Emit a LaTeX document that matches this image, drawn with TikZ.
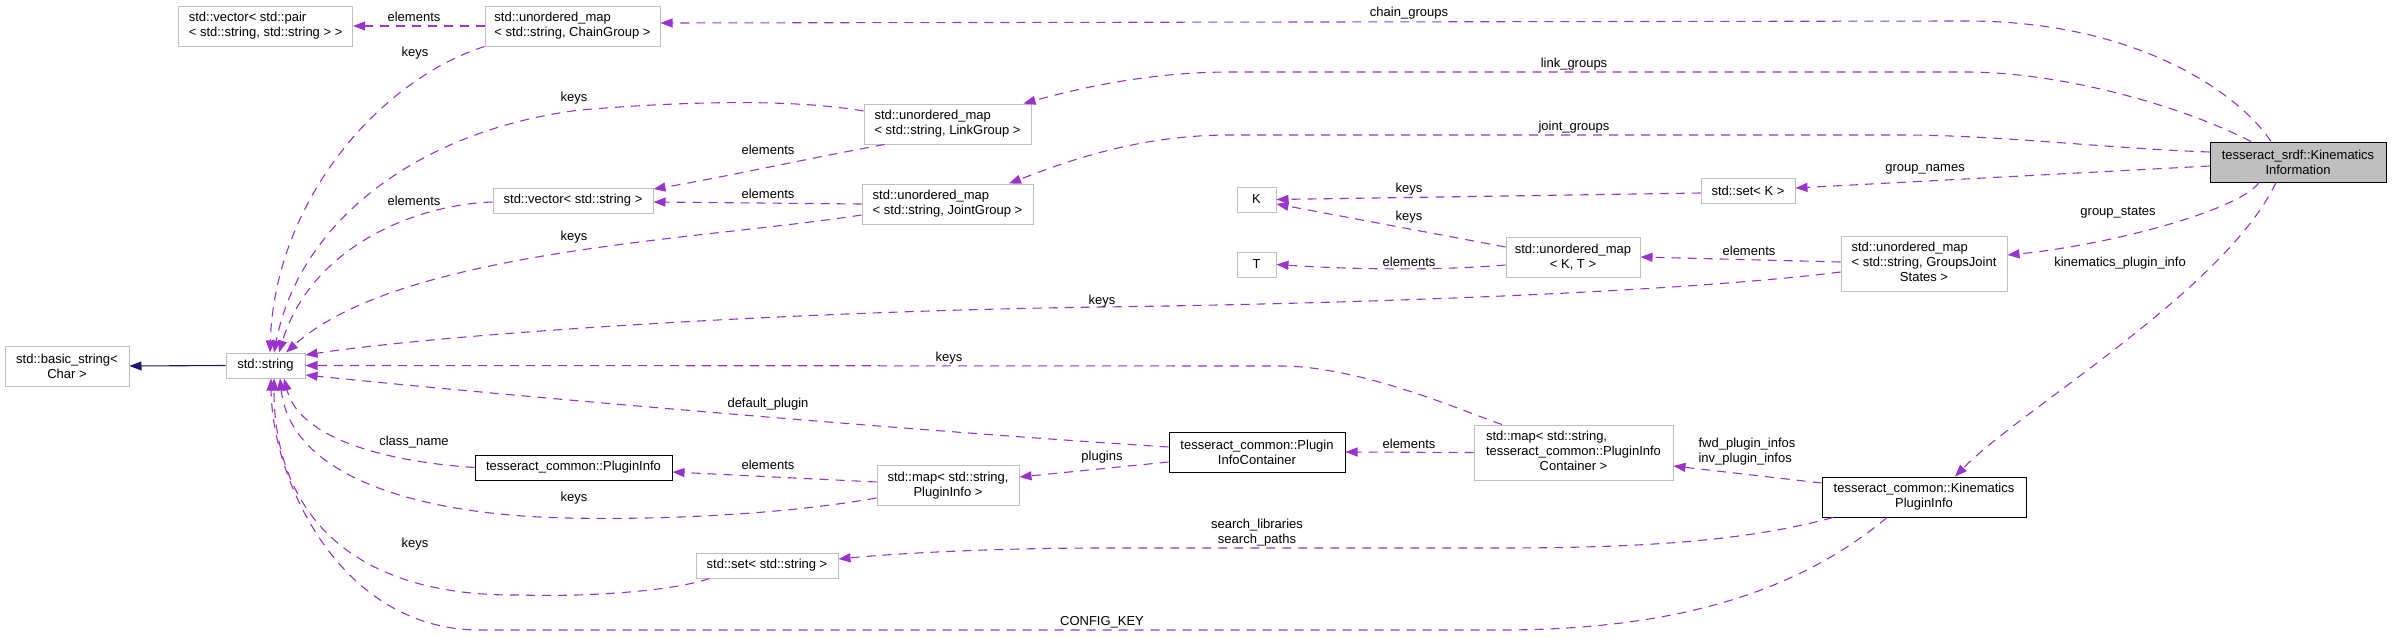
\documentclass[tikz,border=0pt]{standalone}
\usepackage{fontspec}
\setmainfont{Liberation Sans}
\usetikzlibrary{arrows.meta}
\definecolor{edgepurple}{HTML}{9A32CD}
\definecolor{edgenavy}{HTML}{191970}
\definecolor{boxgray}{HTML}{BFBFBF}

\begin{document}
\begin{tikzpicture}[x=1pt, y=-1pt,
    every node/.style={font=\fontsize{13}{15}\selectfont, inner sep=0pt},
    cls/.style={draw=boxgray, line width=1pt, fill=white, align=center},
    doc/.style={draw=black, line width=1pt, fill=white, align=center},
    focus/.style={draw=black, line width=1pt, fill=boxgray, align=center},
    member/.style={draw=edgepurple, line width=1.1pt, dash pattern=on 9pt off 7pt, -{Triangle[length=12pt,width=9pt]}},
    base/.style={draw=edgenavy, line width=1.1pt, -{Triangle[length=12pt,width=9pt]}}]
		\useasboundingbox (0,0) rectangle (2392,637);
		\node[cls, minimum width=174pt, minimum height=40pt] (vecpair) at (265.6,26) {\begin{tabular}{@{}l@{}}std::vector< std::pair\\< std::string, std::string > >\end{tabular}};
		\node[cls, minimum width=175pt, minimum height=40pt] (chain) at (572.5,26) {\begin{tabular}{@{}l@{}}std::unordered\_map\\< std::string, ChainGroup >\end{tabular}};
		\node[cls, minimum width=160pt, minimum height=25pt] (vecstr) at (573,200.5) {std::vector< std::string >};
		\node[cls, minimum width=124pt, minimum height=40pt] (basic) at (67,366) {std::basic\_string<\\Char >};
		\node[cls, minimum width=79pt, minimum height=25pt] (str) at (265.5,365.5) {std::string};
		\node[doc, minimum width=197pt, minimum height=25pt] (pinfo) at (573.5,467.5) {tesseract\_common::PluginInfo};
		\node[cls, minimum width=167pt, minimum height=40pt] (link) at (947.5,124) {\begin{tabular}{@{}l@{}}std::unordered\_map\\< std::string, LinkGroup >\end{tabular}};
		\node[cls, minimum width=171pt, minimum height=40pt] (joint) at (947.5,204) {\begin{tabular}{@{}l@{}}std::unordered\_map\\< std::string, JointGroup >\end{tabular}};
		\node[cls, minimum width=142pt, minimum height=40pt] (mappi) at (948,485.5) {std::map< std::string,\\PluginInfo >};
		\node[cls, minimum width=142pt, minimum height=25pt] (setstr) at (767,565.5) {std::set< std::string >};
		\node[cls, minimum width=39pt, minimum height=25pt] (K) at (1256.5,199.5) {K};
		\node[cls, minimum width=39pt, minimum height=25pt] (T) at (1256.5,264.5) {T};
		\node[doc, minimum width=176pt, minimum height=40pt] (pic) at (1257,452) {tesseract\_common::Plugin\\InfoContainer};
		\node[cls, minimum width=134pt, minimum height=40pt] (umapkt) at (1573,257) {std::unordered\_map\\< K, T >};
		\node[cls, minimum width=199pt, minimum height=55pt] (mappic) at (1573.5,452.5) {\begin{tabular}{@{}l@{}}std::map< std::string,\\tesseract\_common::PluginInfo\\\multicolumn{1}{@{}c@{}}{Container >}\end{tabular}};
		\node[cls, minimum width=94pt, minimum height=25pt] (setk) at (1748,191) {std::set< K >};
		\node[cls, minimum width=166pt, minimum height=55pt] (gjs) at (1924,263.5) {\begin{tabular}{@{}l@{}}std::unordered\_map\\< std::string, GroupsJoint\\\multicolumn{1}{@{}c@{}}{States >}\end{tabular}};
		\node[doc, minimum width=204pt, minimum height=40pt] (kpi) at (1924,497) {tesseract\_common::Kinematics\\PluginInfo};
		\node[focus, minimum width=176pt, minimum height=40pt] (kin) at (2298,162) {tesseract\_srdf::Kinematics\\Information};

		\draw[member] ([xshift=-27pt]kin.north) .. controls (2240,95) and (2140,21) .. (1966,21) -- ([yshift=3pt]chain.east);
		\draw[member] ([xshift=-47pt]kin.north) .. controls (2180,105) and (2060,72) .. (1966,72) -- (1230,72) .. controls (1150,72) and (1080,88) .. ([xshift=-8pt]link.north east);
		\draw[member] ([yshift=10pt]kin.west) .. controls (2100,148) and (2000,135) .. (1900,135) -- (1230,135) .. controls (1140,135) and (1070,160) .. ([xshift=61.5pt]joint.north);
		\draw[member] ([yshift=-4pt]kin.west) -- ([yshift=3pt]setk.east);
		\draw[member] ([xshift=-39pt]kin.south) .. controls (2240,210) and (2110,245) .. ([yshift=8.5pt]gjs.east);
		\draw[member] ([xshift=-22pt]kin.south) .. controls (2225,290) and (2020,410) .. ([xshift=31pt]kpi.north);

		\draw[member] (chain.west) -- (vecpair.east);
		\draw[member] (chain.south west) .. controls (380,80) and (275,200) .. ([xshift=4.5pt]str.north);
		\draw[member] ([yshift=13pt]link.west) .. controls (800,100) and (700,100) .. (580,110) .. controls (420,130) and (300,220) .. ([xshift=8.5pt]str.north);
		\draw[member] ([xshift=21pt]link.south west) .. controls (800,160) and (720,178) .. ([yshift=11.5pt]vecstr.east);
		\draw[member] (joint.west) -- ([yshift=-1.5pt]vecstr.east);
		\draw[member] ([yshift=-1.5pt]vecstr.west) .. controls (410,205) and (310,250) .. ([xshift=13.5pt]str.north);
		\draw[member] ([yshift=-11pt]joint.west) .. controls (700,240) and (400,250) .. ([xshift=20.5pt]str.north);

		\draw[member] ([yshift=-2pt]setk.west) -- (K.east);
		\draw[member] ([yshift=10pt]umapkt.west) -- ([yshift=-4.5pt]K.east);
		\draw[member] ([yshift=-8pt]umapkt.west) .. controls (1420,272) and (1330,268) .. (T.east);
		\draw[member] ([yshift=1.5pt]gjs.west) -- (umapkt.east);
		\draw[member] ([yshift=-8.5pt]gjs.west) .. controls (1700,290) and (1400,303) .. (1102,307) .. controls (800,311) and (450,333) .. ([yshift=10.5pt]str.east);

		\draw[member] ([xshift=-71.5pt]mappic.north) .. controls (1460,410) and (1360,366) .. (1280,366) -- (str.east);
		\draw[member] ([yshift=5pt]pic.west) .. controls (900,430) and (500,395) .. ([yshift=-9.5pt]str.east);
		\draw[member] (pinfo.west) .. controls (390,462) and (300,440) .. ([xshift=18.5pt]str.south);
		\draw[member] ([yshift=3.5pt]mappi.west) -- ([yshift=-4.5pt]pinfo.east);
		\draw[member] ([yshift=-12.5pt]mappi.west) .. controls (750,520) and (600,520) .. (540,517) .. controls (400,510) and (290,470) .. ([xshift=14.5pt]str.south);
		\draw[member] ([yshift=-10pt]pic.west) -- ([yshift=8.5pt]mappi.east);
		\draw[member] (mappic.west) -- (pic.east);
		\draw[member] ([yshift=14pt]kpi.west) -- ([yshift=-13.5pt]mappic.east);
		\draw[member] ([xshift=-91pt]kpi.south) .. controls (1750,540) and (1650,548) .. (1500,548) -- (1100,548) .. controls (1000,548) and (900,553) .. ([yshift=6.5pt]setstr.east);
		\draw[member] ([xshift=14pt]setstr.south west) .. controls (670,592) and (580,597) .. (520,595) .. controls (342,597) and (274,505) .. ([xshift=8.5pt]str.south);
		\draw[member] ([xshift=-37pt]kpi.south) .. controls (1800,590) and (1680,630) .. (1500,630) -- (480,630) .. controls (340,630) and (272,480) .. ([xshift=5.5pt]str.south);

		\draw[base] (str.west) -- (basic.east);

		\node (lchain) at (1409,13) {chain\_groups};
		\node (llink) at (1574,64) {link\_groups};
		\node (ljoint) at (1574,127) {joint\_groups};
		\node (lgnames) at (1925,169) {group\_names};
		\node (lgstates) at (2118,213) {group\_states};
		\node (lkpi) at (2120,263) {kinematics\_plugin\_info};
		\node (lvecpair) at (414,17) {elements};
		\node (lchainkeys) at (415,53) {keys};
		\node (llinkkeys) at (574,98) {keys};
		\node (lvecstr) at (414,201) {elements};
		\node (llinkel) at (768,150) {elements};
		\node (ljointel) at (768,194) {elements};
		\node (ljointkeys) at (574,237) {keys};
		\node (lsetk) at (1409,189) {keys};
		\node (lkeyk) at (1409,217) {keys};
		\node (lelt) at (1409,262) {elements};
		\node (lgjsel) at (1749,251) {elements};
		\node (lgjskeys) at (1102,301) {keys};
		\node (lmappickeys) at (949,358) {keys};
		\node (ldefault) at (768,404) {default\_plugin};
		\node (lclass) at (414,442) {class\_name};
		\node (lmappikeys) at (574,498) {keys};
		\node (lsetstrkeys) at (415,544) {keys};
		\node (lmappiel) at (768,465) {elements};
		\node (lplugins) at (1102,457) {plugins};
		\node (lmappicel) at (1409,444) {elements};
		\node[align=left] (lfwd) at (1747,452) {fwd\_plugin\_infos\\inv\_plugin\_infos};
		\node[align=center] (lsearch) at (1257,533) {search\_libraries\\search\_paths};
		\node (lconfig) at (1102,622) {CONFIG\_KEY};
	\end{tikzpicture}
\end{document}
